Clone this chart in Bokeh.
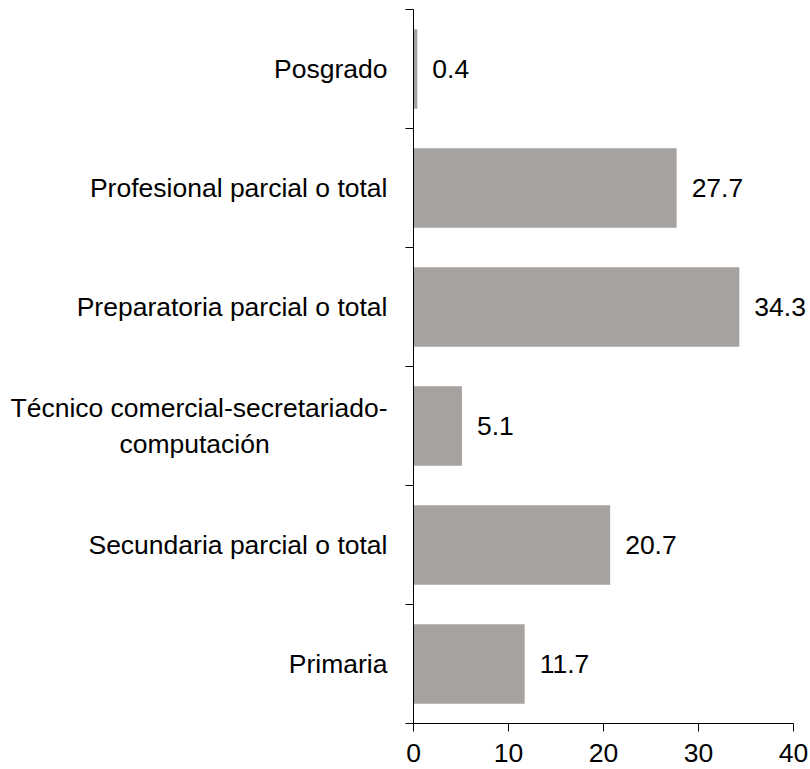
from bokeh.plotting import figure
from bokeh.models import ColumnDataSource, FixedTicker, LabelSet, Range1d
from bokeh.core.properties import value
from bokeh.embed import file_html
from bokeh.resources import INLINE

# Data (bottom to top)
categories = [
    "Primaria",
    "Secundaria parcial o total",
    "Técnico comercial-secretariado-\ncomputación" + "\u00a0" * 16,
    "Preparatoria parcial o total",
    "Profesional parcial o total",
    "Posgrado",
]
values = [11.7, 20.7, 5.1, 34.3, 27.7, 0.4]
x_ticks = [0, 10, 20, 30, 40]

FONT = "Liberation Sans"
FS = "26.5px"
BAR = "#a6a2a0"

ys = list(range(len(categories)))
boundaries = [i - 0.5 for i in range(len(categories) + 1)]

src = ColumnDataSource(dict(
    y=ys, v=values, lab=[f"{v:.1f}" for v in values]
))

p = figure(width=810, height=769, output_backend="svg", toolbar_location=None,
           x_range=Range1d(0, 41.37), y_range=Range1d(boundaries[0], boundaries[-1]),
           min_border_left=413, min_border_right=4, min_border_top=9,
           min_border_bottom=46)
p.outline_line_color = None
p.grid.visible = False
p.background_fill_color = "white"
p.border_fill_color = "white"

p.hbar(y="y", left=0, right="v", height=0.67, source=src,
       fill_color=BAR, line_color=None)

# value labels
p.add_layout(LabelSet(x="v", y="y", text="lab", source=src, x_offset=15,
                      text_baseline="middle", text_font=value(FONT),
                      text_font_size=FS, text_color="black"))

# y axis
ya = p.yaxis[0]
ya.ticker = FixedTicker(ticks=ys, minor_ticks=boundaries)
ya.major_label_overrides = {i: c for i, c in zip(ys, categories)}
ya.major_tick_out = 0
ya.major_tick_in = 0
ya.minor_tick_out = 8
ya.minor_tick_in = 0
ya.minor_tick_line_color = "black"
ya.axis_line_color = "black"
ya.major_label_text_font = FONT
ya.major_label_text_font_size = FS
ya.major_label_text_color = "black"
ya.major_label_standoff = 18

# x axis
xa = p.xaxis[0]
xa.ticker = FixedTicker(ticks=x_ticks)
xa.bounds = (x_ticks[0], x_ticks[-1])
xa.major_tick_out = 8
xa.major_tick_in = 0
xa.major_tick_line_color = "black"
xa.axis_line_color = "black"
xa.major_label_text_font = FONT
xa.major_label_text_font_size = FS
xa.major_label_text_color = "black"
xa.major_label_standoff = 12

open("out.html", "w").write(file_html(p, INLINE))
